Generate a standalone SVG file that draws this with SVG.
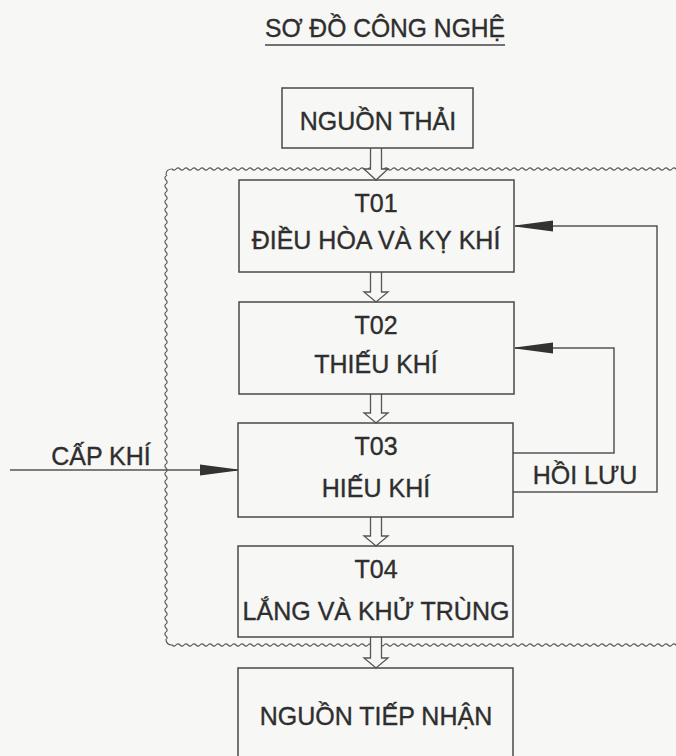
<svg xmlns="http://www.w3.org/2000/svg" width="676" height="756" viewBox="0 0 676 756">
<style>
  .box { fill: none; stroke: #4a4a4a; stroke-width: 1.5; }
  .t { font-family: "Liberation Sans", Arial, sans-serif; font-size: 25px; fill: #2e2e2e; stroke: #2e2e2e; stroke-width: 0.35; text-anchor: middle; }
  .ln { fill: none; stroke: #555; stroke-width: 1.5; }
  .harrow { fill: #f7f7f5; stroke: #555; stroke-width: 1.3; stroke-linejoin: miter; }
  .wv { fill: none; stroke: #5a5a5a; stroke-width: 1.2; }
</style>
<defs>
  <marker id="ah" viewBox="0 0 38 12" refX="38" refY="6" markerWidth="38" markerHeight="12" markerUnits="userSpaceOnUse" orient="auto">
    <path d="M0,0.5 L38,5.5 L38,6.5 L0,11.5 Z" fill="#333"/>
  </marker>
  <pattern id="waveH" patternUnits="userSpaceOnUse" x="0" y="166" width="8" height="6">
    <path class="wv" d="M0,3 Q2,0.8 4,3 T8,3"/>
  </pattern>
  <pattern id="waveHb" patternUnits="userSpaceOnUse" x="0" y="642" width="8" height="6">
    <path class="wv" d="M0,3 Q2,0.8 4,3 T8,3"/>
  </pattern>
  <pattern id="waveV" patternUnits="userSpaceOnUse" x="163" y="0" width="6" height="8">
    <path class="wv" d="M3,0 Q0.8,2 3,4 T3,8"/>
  </pattern>
</defs>
<rect width="676" height="756" fill="#f7f7f5"/>

<g id="title">
  <text class="t" x="385" y="37" font-size="24" textLength="240" lengthAdjust="spacingAndGlyphs">SƠ ĐỒ CÔNG NGHỆ</text>
  <line x1="265" y1="45" x2="505" y2="45" stroke="#444" stroke-width="1.5"/>
</g>

<g id="container">
  <rect x="172" y="166" width="504" height="6" fill="url(#waveH)"/>
  <rect x="172" y="642" width="504" height="6" fill="url(#waveHb)"/>
  <rect x="163" y="175" width="6" height="464" fill="url(#waveV)"/>
  <path class="wv" d="M166,175 Q166,169 172,169 M166,639 Q166,645 172,645"/>
</g>

<g id="connectors">
  <path class="harrow" d="M370.5,148 V169 H364 L376,180 L388,169 H381.5 V148"/>
  <path class="harrow" d="M370.5,272 V292 H364 L376,302 L388,292 H381.5 V272"/>
  <path class="harrow" d="M370.5,394 V413 H364 L376,423 L388,413 H381.5 V394"/>
  <path class="harrow" d="M370.5,517 V536 H364 L376,546 L388,536 H381.5 V517"/>
  <path class="harrow" d="M370.5,637 V658 H364 L376,668 L388,658 H381.5 V637"/>
  <polyline class="ln" points="513,492 657,492 657,226 515,226" marker-end="url(#ah)"/>
  <polyline class="ln" points="513,453 614,453 614,348 515,348" marker-end="url(#ah)"/>
  <line class="ln" x1="10" y1="470" x2="238" y2="470" marker-end="url(#ah)"/>
  <text class="t" x="101" y="465" font-size="24">CẤP KHÍ</text>
  <text class="t" x="585" y="484">HỒI LƯU</text>
</g>

<g id="nguon-thai">
  <rect class="box" x="282" y="88" width="191" height="60"/>
  <text class="t" x="378" y="130">NGUỒN THẢI</text>
</g>

<g id="t01">
  <rect class="box" x="239" y="180" width="275" height="92"/>
  <text class="t" x="376" y="212">T01</text>
  <text class="t" x="376" y="249">ĐIỀU HÒA VÀ KỴ KHÍ</text>
</g>

<g id="t02">
  <rect class="box" x="239" y="302" width="275" height="92"/>
  <text class="t" x="376" y="334">T02</text>
  <text class="t" x="376" y="373">THIẾU KHÍ</text>
</g>

<g id="t03">
  <rect class="box" x="238" y="423" width="275" height="94"/>
  <text class="t" x="376" y="455">T03</text>
  <text class="t" x="376" y="497">HIẾU KHÍ</text>
</g>

<g id="t04">
  <rect class="box" x="238" y="546" width="275" height="91"/>
  <text class="t" x="376" y="578">T04</text>
  <text class="t" x="376" y="620">LẮNG VÀ KHỬ TRÙNG</text>
</g>

<g id="nguon-tiep-nhan">
  <rect class="box" x="238" y="668" width="275" height="100"/>
  <text class="t" x="376" y="725">NGUỒN TIẾP NHẬN</text>
</g>
</svg>
